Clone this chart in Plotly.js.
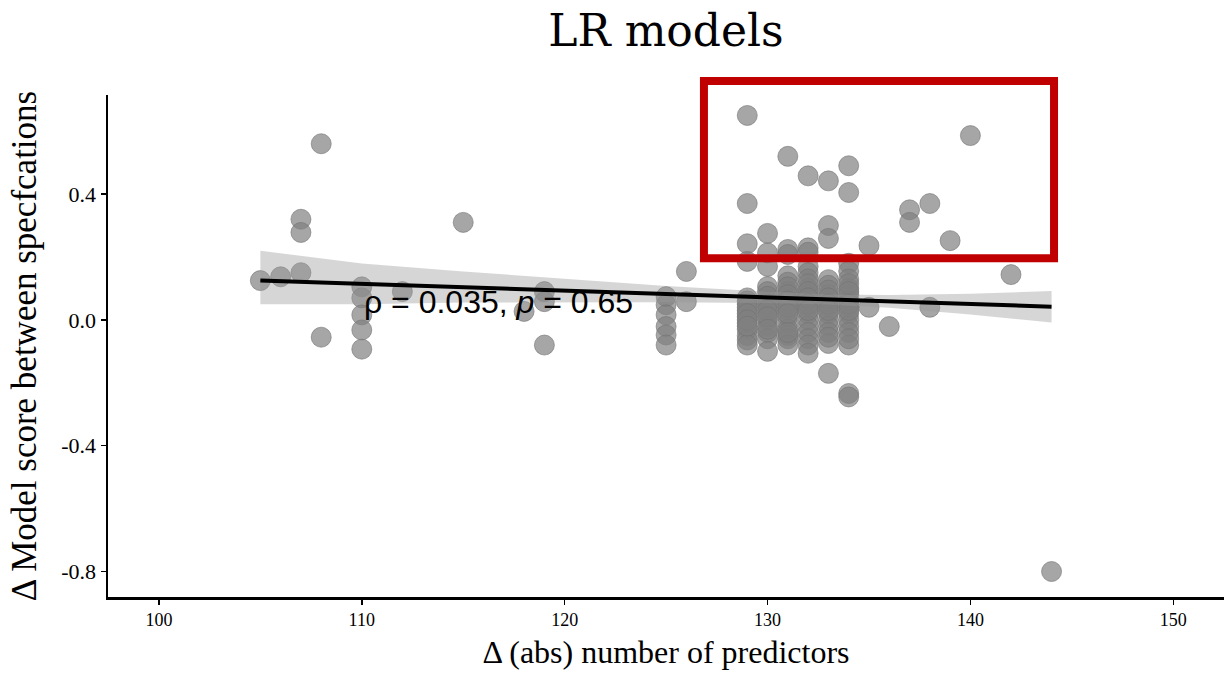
<!DOCTYPE html>
<html>
<head>
<meta charset="utf-8">
<script src="https://cdn.plot.ly/plotly-3.0.1.min.js"></script>
<style>html,body{margin:0;padding:0;background:#fff;}#chart{width:1224px;height:674px;}</style>
</head>
<body>
<div id="chart"></div>
<script>
// Scatter points: number of predictors (x) and score delta (y)
const xVals = [
  105, 106, 107, 107, 107, 108, 108,
  110, 110, 110, 110, 110, 112, 115, 118, 119, 119, 119,
  125, 125, 125, 125, 125, 125, 126, 126,
  129, 129, 129, 129, 129, 129, 129, 129, 129, 129, 129, 129, 129, 129, 129, 129, 129, 129,
  130, 130, 130, 130, 130, 130, 130, 130, 130, 130, 130, 130, 130, 130, 130, 130, 130, 130,
  131, 131, 131, 131, 131, 131, 131, 131, 131, 131, 131, 131, 131, 131, 131, 131, 131, 131, 131, 131, 131,
  132, 132, 132, 132, 132, 132, 132, 132, 132, 132, 132, 132, 132, 132, 132, 132, 132, 132, 132, 132, 132, 132,
  133, 133, 133, 133, 133, 133, 133, 133, 133, 133, 133, 133, 133, 133, 133, 133, 133, 133, 133,
  134, 134, 134, 134, 134, 134, 134, 134, 134, 134, 134, 134, 134, 134, 134, 134, 134, 134, 134, 134, 134,
  135, 135, 136, 137, 137, 138, 138, 139, 140, 142, 144
];
const yVals = [
  0.125, 0.137, 0.32, 0.278, 0.15, 0.56, -0.055,
  0.105, 0.07, 0.016, -0.032, -0.093, 0.09, 0.31, 0.027, 0.09, 0.058, -0.08,
  0.074, 0.048, 0.016, -0.021, -0.048, -0.08, 0.154, 0.058,
  0.65, 0.37, 0.242, 0.186, 0.07, 0.05, 0.03, 0.01, -0.01, -0.03, -0.05, -0.064, -0.08, 0.06, 0.04, 0.02, 0.0, -0.02,
  0.275, 0.213, 0.17, 0.106, 0.09, 0.06, 0.04, 0.02, 0.0, -0.02, -0.04, -0.06, -0.10, 0.075, 0.05, 0.03, 0.01, -0.03,
  0.52, 0.224, 0.208, 0.14, 0.12, 0.09, 0.07, 0.05, 0.03, 0.01, -0.01, -0.03, -0.05, -0.06, -0.08, 0.105, 0.08, 0.06, 0.04, 0.02, -0.04,
  0.458, 0.229, 0.215, 0.17, 0.15, 0.13, 0.10, 0.08, 0.06, 0.04, 0.02, 0.0, -0.02, -0.04, -0.06, -0.08, -0.106, 0.115, 0.09, 0.07, 0.05, 0.03,
  0.442, 0.30, 0.259, 0.128, 0.11, 0.08, 0.06, 0.04, 0.02, 0.0, -0.02, -0.04, -0.075, -0.17, 0.095, 0.07, 0.05, 0.03, -0.055,
  0.49, 0.405, 0.18, 0.155, 0.13, 0.10, 0.08, 0.06, 0.04, 0.02, 0.0, -0.02, -0.04, -0.08, -0.234, -0.245, 0.115, 0.09, 0.05, 0.03, -0.06,
  0.236, 0.04, -0.021, 0.35, 0.31, 0.37, 0.04, 0.252, 0.586, 0.144, -0.80
];

// Fitted regression line and its confidence band
const fitX = [105, 144];
const fitY = [0.125, 0.042];
const bandX = [105, 110, 115, 120, 125, 130, 133, 136, 140, 144];
const bandUpper = [0.22, 0.179, 0.154, 0.13, 0.108, 0.09, 0.081, 0.079, 0.083, 0.092];
const bandLower = [0.05, 0.05, 0.055, 0.056, 0.056, 0.054, 0.049, 0.039, 0.017, -0.008];

const xTicks = [100, 110, 120, 130, 140, 150];
const yTicks = [-0.8, -0.4, 0.0, 0.4];
const yTickText = ['-0.8', '-0.4', '0.0', '0.4'];

const corLabel = 'ρ = 0.035, <i>p</i> = 0.65';
const corLabelPos = [110, 0.056];

const bandPolyX = bandX.concat(bandX.slice().reverse());
const bandPolyY = bandUpper.concat(bandLower.slice().reverse());

const traces = [
  {
    x: xVals, y: yVals, type: 'scatter', mode: 'markers',
    marker: {size: 20, color: 'rgba(128,128,128,0.7)', line: {color: 'rgba(115,115,115,0.6)', width: 1}},
    hoverinfo: 'x+y', showlegend: false
  },
  {
    x: bandPolyX, y: bandPolyY, type: 'scatter', mode: 'lines',
    fill: 'toself', fillcolor: 'rgba(153,153,153,0.4)',
    line: {width: 0, color: 'rgba(0,0,0,0)'}, hoverinfo: 'skip', showlegend: false
  },
  {
    x: fitX, y: fitY, type: 'scatter', mode: 'lines',
    line: {color: '#000000', width: 4}, hoverinfo: 'skip', showlegend: false
  }
];

const layout = {
  width: 1224, height: 674,
  margin: {l: 108, r: 0, t: 95, b: 77},
  paper_bgcolor: '#ffffff', plot_bgcolor: '#ffffff',
  title: {
    text: 'LR models', x: 0.5, xref: 'paper', y: 0.955, yref: 'container', yanchor: 'middle',
    font: {family: 'Roboto Slab, DejaVu Serif, serif', size: 44, color: '#000000'}
  },
  xaxis: {
    range: [97.49, 152.5], tickvals: xTicks, ticktext: xTicks.map(String),
    showgrid: false, zeroline: false, showline: true, linecolor: '#000000', linewidth: 2.5,
    ticks: 'outside', ticklen: 5, tickwidth: 1.5, tickcolor: '#000000',
    tickfont: {family: 'Liberation Serif, Times New Roman, serif', size: 18, color: '#000000'},
    title: {text: 'Δ (abs) number of predictors', standoff: 12,
      font: {family: 'Liberation Serif, Times New Roman, serif', size: 32, color: '#000000'}}
  },
  yaxis: {
    range: [-0.881, 0.715], tickvals: yTicks, ticktext: yTickText,
    showgrid: false, zeroline: false, showline: true, linecolor: '#000000', linewidth: 2.5,
    ticks: 'outside', ticklen: 5, tickwidth: 1.5, tickcolor: '#000000',
    tickfont: {family: 'Liberation Serif, Times New Roman, serif', size: 22, color: '#000000'},
    title: {text: 'Δ Model score between specfcations', standoff: 14,
      font: {family: 'Liberation Serif, Times New Roman, serif', size: 35, color: '#000000'}}
  },
  annotations: [
    {x: corLabelPos[0], y: corLabelPos[1], xref: 'x', yref: 'y', text: corLabel, showarrow: false,
     xanchor: 'left', yanchor: 'middle',
     font: {family: 'Liberation Sans, Arial, sans-serif', size: 32, color: '#000000'}}
  ],
  shapes: [
    {type: 'rect', xref: 'paper', yref: 'paper', x0: 0.534, x1: 0.8477, y0: 0.675, y1: 1.028,
     line: {color: '#c00000', width: 8}, fillcolor: 'rgba(0,0,0,0)', layer: 'above'}
  ]
};

Plotly.newPlot('chart', traces, layout, {displayModeBar: false, staticPlot: true});
</script>
</body>
</html>
